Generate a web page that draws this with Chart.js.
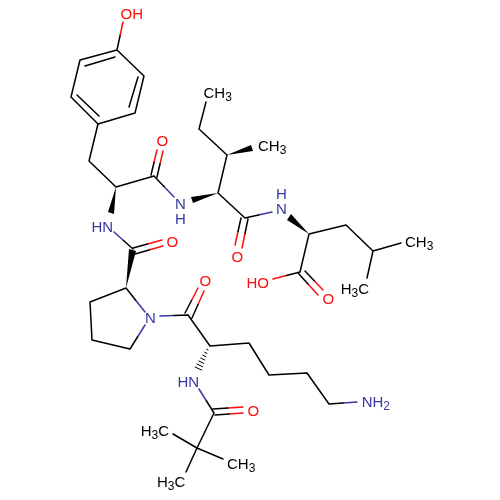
<!DOCTYPE html>
<html>
<head>
<meta charset="utf-8">
<title>Peptide structure</title>
<script src="https://cdn.jsdelivr.net/npm/chart.js@4/dist/chart.umd.min.js"></script>
<style>
	html, body { margin: 0; padding: 0; background: #fff; }
	canvas { display: block; }
</style>
</head>
<body>
<canvas id="molecule" width="500" height="500"></canvas>
<script>
// bonds as x1,y1,x2,y2, split at the middle where the two atoms differ
var blackBonds = [
	[117,50,144,76],[144,76,135,113],[135,113,98,124],[98,124,71,97],[71,97,80,60],[80,60,117,50],
	[85,66,115,57],[138,77,129,107],[77,95,99,116],
	[117,50,120,36],[98,124,89,161],[89,161,116,187],[116,187,154,176],
	[151,175,154,162.5],[157,177,160,164],[154,176,164,186.5],
	[218,193,227,155],[227,155,199,129],[199,129,206,102],[218,193,245,218],
	[241,218,238,231.5],[248,219,245,233.5],[245,218,258.5,215],
	[309,234,346,225],[346,225,373,251],[373,251,401,243],[373,251,367,278],[309,234,300,272],
	[300,272,286.5,275.5],[298,273,308,284],[305,271,314,280.5],
	[123.5,240.5,133,249],[133,248,147.5,244],[135,254,149,250],
	[126,288,90,302],[90,302,92,340],[92,340,130,349],[126,288,135.5,300],[130,349,137.5,337],
	[174,315.5,188,315],[185,313,191.5,300.5],[192,318,198,304.5],
	[188,315,210,346],[210,346,249,343],[249,343,269,375],[269,375,307,373],[307,373,329,404],[329,404,343,403],
	[206.5,401,214,413],[213,409,228,408],[215,415,229,414],
	[214,413,197,448],[197,448,173,434],[197,448,223,459],[197,448,186,472]
];
var redBonds = [
	[120,36,123,22],[154,162.5,157,150],[160,164,163,151],
	[238,231.5,235,245],[245,233.5,242,248],
	[286.5,275.5,273,279],[308,284,318,295],[314,280.5,323,290],
	[147.5,244,162,240],[149,250,163,246],
	[191.5,300.5,198,288],[198,304.5,204,291],
	[228,408,243,407],[229,414,243,413]
];
var blueBonds = [
	[164,186.5,174,197],[258.5,215,272,212],[114,232,123.5,240.5],
	[135.5,300,145,312],[137.5,337,145,325],[160,316,174,315.5],
	[343,403,357,402],[199,389,206.5,401]
];
// the hashed bond going down from the lysine alpha carbon
var hashBonds = [
	[206.6,349.3,208,349.9],[204.6,352.2,207,353.4],[202.7,355.1,205.9,356.7],[200.7,358,204.9,360],
	[198.8,361,203.8,363.4],[196.8,364,202.8,366.8],[194.9,366.9,201.7,370.1]
];
// solid wedges, narrow end first
var wedges = [
	[116,187,108,212,114,214],
	[218,193,191,197,193,203],
	[227,155,251,145,253,151],
	[309,234,291,214,287,220],
	[126,288,129,249,136,251]
];
// atom labels: text, element, left edge, baseline
var labelTexts = ['OH','O','N','H','HN','O','CH3','CH3','H','N','CH3','H3C','HO','O','O','N','HN','O','NH2','H3C','CH3','H3C','O'];
var labelElements = ['O','O','N','N','N','O','C','C','N','N','C','C','O','O','O','N','N','O','N','C','C','C','O'];
var labelXs = [120.5,156.5,175,175,91.5,166.5,203.5,258,276,276,405,340.7,246.5,322.5,199.5,145,177.5,247.5,361.7,140.7,227,157,231.5];
var labelYs = [19,146,209,224,232,247,98,151,199,214,247,294,288,304,286,323,387,416,407,436,469,487,262];

var elementColors = { C: '#000000', O: '#ff0d0d', N: '#3838a0' };

function toPoints(segments) {
	var points = [];
	segments.forEach(function(s) {
		points.push({ x: s[0], y: s[1] }, { x: s[2], y: s[3] }, { x: NaN, y: NaN });
	});
	return points;
}

function bondDataset(segments, color, width) {
	return {
		data: toPoints(segments),
		borderColor: color,
		borderWidth: width,
		borderCapStyle: 'round',
		pointRadius: 0,
		showLine: true,
		spanGaps: false,
		fill: false
	};
}

var datasets = [
	bondDataset(blackBonds, elementColors.C, 1.5),
	bondDataset(redBonds, elementColors.O, 1.5),
	bondDataset(blueBonds, elementColors.N, 1.5),
	bondDataset(hashBonds, elementColors.C, 1)
];

wedges.forEach(function(w) {
	datasets.push({
		data: [{ x: w[0], y: w[1] }, { x: w[2], y: w[3] }, { x: w[4], y: w[5] }],
		borderColor: '#000000',
		borderWidth: 0,
		backgroundColor: '#000000',
		pointRadius: 0,
		showLine: true,
		fill: 'shape'
	});
});

var atomLabels = {
	id: 'atomLabels',
	afterDatasetsDraw: function(chart) {
		var ctx = chart.ctx;
		ctx.save();
		ctx.textBaseline = 'alphabetic';
		ctx.textAlign = 'left';
		labelTexts.forEach(function(text, i) {
			var x = chart.scales.x.getPixelForValue(labelXs[i]);
			var y = chart.scales.y.getPixelForValue(labelYs[i]);
			ctx.fillStyle = elementColors[labelElements[i]];
			text.split('').forEach(function(ch) {
				var sub = /[0-9]/.test(ch);
				ctx.font = (sub ? 12 : 15) + 'px "Liberation Sans"';
				ctx.fillText(ch, x, sub ? y + 3 : y);
				x += ctx.measureText(ch).width;
			});
		});
		ctx.restore();
	}
};

new Chart(document.getElementById('molecule'), {
	type: 'scatter',
	data: { datasets: datasets },
	options: {
		responsive: false,
		animation: false,
		layout: { padding: 0 },
		plugins: {
			legend: { display: false },
			tooltip: { enabled: false }
		},
		scales: {
			x: { type: 'linear', min: 0, max: 500, display: false },
			y: { type: 'linear', min: 0, max: 500, reverse: true, display: false }
		}
	},
	plugins: [atomLabels]
});
</script>
</body>
</html>
